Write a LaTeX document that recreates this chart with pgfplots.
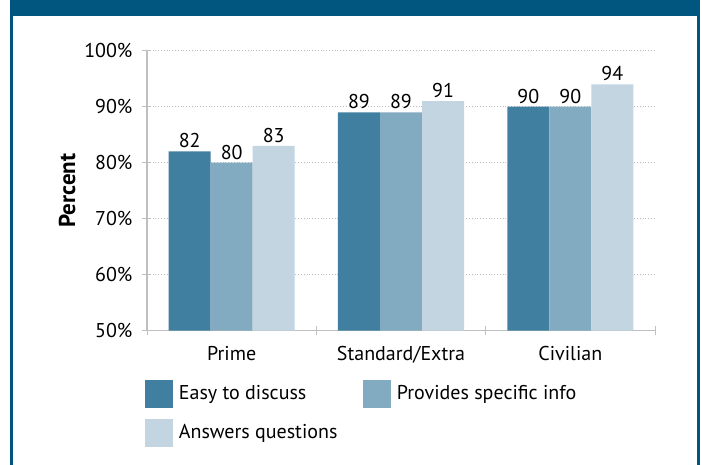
\documentclass[border=0pt]{standalone}
\usepackage{pgfplots}
\pgfplotsset{compat=1.18}
\usepackage{fontspec}
\setmainfont{PT Sans}
\definecolor{frameblue}{HTML}{00567F}
\definecolor{barA}{HTML}{417FA0}
\definecolor{barB}{HTML}{82AAC0}
\definecolor{barC}{HTML}{C2D5E0}
\definecolor{axgray}{HTML}{BFBFBF}
\begin{document}
\begin{tikzpicture}
\useasboundingbox (0,0) rectangle (351pt,232.5pt);
\fill[white] (0,0) rectangle (351pt,232.5pt);
\fill[frameblue] (5pt,0) rectangle (6.5pt,232.5pt);
\fill[frameblue] (348.5pt,0) rectangle (350pt,232.5pt);
\fill[frameblue] (5pt,224.5pt) rectangle (350pt,232.5pt);
\begin{axis}[
  at={(73.5pt,67.15pt)}, anchor=south west,
  width=254pt, height=140pt, scale only axis,
  font=\fontsize{10}{12}\selectfont,
  ybar=0pt, bar width=21pt,
  xmin=-0.5, xmax=2.5, ymin=50, ymax=100,
  xtick={0,1,2}, xticklabels={Prime,Standard/Extra,Civilian},
  minor xtick={-0.5,0.5,1.5,2.5},
  major x tick style={draw=none},
  minor tick length=4.5pt,
  tick align=outside, tick pos=left,
  major tick length=4.5pt,
  ytick={50,60,70,80,90,100},
  yticklabels={50\%,60\%,70\%,80\%,90\%,100\%},
  yticklabel style={xshift=-1.5pt},
  every tick/.style={axgray, thin},
  axis lines=left, axis line style={axgray, -, thick},
  ymajorgrids, grid style={axgray, densely dotted, thin},
  ylabel={\bfseries Percent},
  ylabel style={at={(axis description cs:-0.157,0.5)}, anchor=center, font=\fontsize{11.5}{13}\selectfont},
  xticklabel style={yshift=-2pt},
  /pgf/number format/assume math mode=true,
  nodes near coords={\pgfmathprintnumber{\pgfplotspointmeta}},
  every node near coord/.append style={inner sep=1.5pt, black, font=\fontsize{10}{12}\selectfont},
  legend columns=2,
  legend style={at={(-0.004,-0.176)}, anchor=north west, draw=none, fill=none, inner sep=0pt,
     row sep=5.5pt, column sep=0pt,
     nodes={inner sep=0pt, anchor=west},
     /tikz/every odd column/.style={column sep=3pt},
     font=\fontsize{10}{12}\selectfont},
  legend image code/.code={\fill[#1] (0pt,-6.9pt) rectangle (13.75pt,6.9pt);},
]
\addplot[fill=barA, draw=none] coordinates {(0,82) (1,89) (2,90)};
\addplot[fill=barB, draw=none] coordinates {(0,80) (1,89) (2,90)};
\addplot[fill=barC, draw=none] coordinates {(0,83) (1,91) (2,94)};
\legend{\makebox[92.25pt][l]{Easy to discuss},\makebox[92.25pt][l]{Provides specific info},\makebox[92.25pt][l]{Answers questions}}
\end{axis}
\end{tikzpicture}
\end{document}
